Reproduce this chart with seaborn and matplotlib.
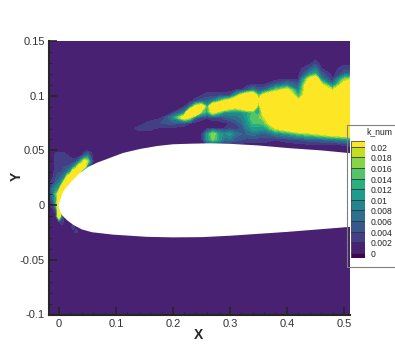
import numpy as np
import matplotlib
matplotlib.use("Agg")
import matplotlib.pyplot as plt
import seaborn as sns
from matplotlib.patches import Rectangle
from matplotlib.ticker import MultipleLocator

# Contour levels and axis ticks
levels = [0, 0.002, 0.004, 0.006, 0.008, 0.01, 0.012, 0.014, 0.016, 0.018, 0.02]
level_labels = ["0", "0.002", "0.004", "0.006", "0.008", "0.01", "0.012", "0.014", "0.016", "0.018", "0.02"]
x_ticks = [0, 0.1, 0.2, 0.3, 0.4, 0.5]
x_labels = ["0", "0.1", "0.2", "0.3", "0.4", "0.5"]
y_ticks = [-0.1, -0.05, 0, 0.05, 0.1, 0.15]
y_labels = ["-0.1", "-0.05", "0", "0.05", "0.1", "0.15"]

# Airfoil outline
upper_x = [-0.0008, 0, 0.002, 0.007, 0.012, 0.019, 0.033, 0.051, 0.067, 0.084, 0.112, 0.142, 0.172, 0.2, 0.23, 0.265, 0.30, 0.35, 0.405, 0.46, 0.52]
upper_y = [0, 0.002, 0.0046, 0.012, 0.0155, 0.02, 0.0275, 0.0348, 0.0388, 0.0421, 0.0476, 0.0513, 0.054, 0.0556, 0.0561, 0.0565, 0.056, 0.0545, 0.052, 0.05, 0.047]
lower_x = [-0.0008, 0, 0.002, 0.005, 0.014, 0.025, 0.04, 0.058, 0.095, 0.154, 0.2, 0.25, 0.3, 0.4, 0.52]
lower_y = [0, -0.002, -0.006, -0.009, -0.0137, -0.018, -0.0222, -0.0248, -0.027, -0.029, -0.0295, -0.0293, -0.028, -0.0245, -0.0195]

# k_num * 1000 in the wake, one row per x station
wake_x = [0.10, 0.12, 0.14, 0.16, 0.18, 0.20, 0.22, 0.23, 0.24, 0.25, 0.26, 0.27, 0.28, 0.29, 0.30, 0.31, 0.32, 0.33, 0.34, 0.35, 0.36, 0.38, 0.40, 0.42, 0.44, 0.45, 0.46, 0.48, 0.50, 0.52]
wake_y = [0.05, 0.055, 0.06, 0.065, 0.07, 0.075, 0.08, 0.085, 0.09, 0.095, 0.10, 0.105, 0.11, 0.115, 0.12, 0.125, 0.13, 0.135]
wake_k = [
    [1, 1, 1, 1, 1, 1, 1, 1, 1, 1, 1, 1, 1, 1, 1, 1, 1, 1],
    [1, 1, 1, 1, 1, 1, 1, 1, 1, 1, 1, 1, 1, 1, 1, 1, 1, 1],
    [1, 1, 1, 1, 2.5, 1, 1, 1, 1, 1, 1, 1, 1, 1, 1, 1, 1, 1],
    [1, 1, 1, 1, 2.5, 2.5, 1, 1, 1, 1, 1, 1, 1, 1, 1, 1, 1, 1],
    [1, 1, 1, 1, 1, 4, 1.5, 1, 1, 1, 1, 1, 1, 1, 1, 1, 1, 1],
    [1, 1, 1, 1, 1, 5, 9, 1.5, 1, 1, 1, 1, 1, 1, 1, 1, 1, 1],
    [1, 1, 1, 1, 1, 3, 24, 8, 2, 1, 1, 1, 1, 1, 1, 1, 1, 1],
    [1, 1, 1, 1, 1, 2, 18, 32, 7, 1, 1, 1, 1, 1, 1, 1, 1, 1],
    [1, 1, 1, 1, 1, 1, 5, 32, 22, 3, 1, 1, 1, 1, 1, 1, 1, 1],
    [1, 1, 1, 1, 1, 1, 3, 16, 26, 5, 2, 1, 1, 1, 1, 1, 1, 1],
    [1, 1, 10, 10, 1, 1, 2, 12, 12, 6, 3, 1, 1, 1, 1, 1, 1, 1],
    [1, 1, 16, 18, 2, 1, 3, 22, 32, 8, 3, 1, 1, 1, 1, 1, 1, 1],
    [1, 1, 12, 12, 2, 1, 3, 16, 34, 14, 3, 1, 1, 1, 1, 1, 1, 1],
    [1, 1, 7, 9, 2, 1.5, 5, 10, 32, 20, 3, 1, 1, 1, 1, 1, 1, 1],
    [1, 1, 7, 11, 3, 2, 6, 10, 24, 24, 4, 1, 1, 1, 1, 1, 1, 1],
    [1, 1, 5, 7, 3, 4, 7, 9, 22, 32, 12, 2, 1, 1, 1, 1, 1, 1],
    [1, 1, 4, 6, 4, 6, 8, 10, 26, 34, 22, 2, 1, 1, 1, 1, 1, 1],
    [1, 1, 3, 6, 8, 10, 11, 12, 32, 34, 30, 5, 1, 1, 1, 1, 1, 1],
    [1, 1, 3, 7, 11, 14, 16, 14, 30, 34, 32, 9, 2, 1, 1, 1, 1, 1],
    [1, 1, 3, 6, 11, 14, 15, 11, 12, 20, 14, 5, 2, 1, 1, 1, 1, 1],
    [1, 1, 3, 5, 10, 15, 19, 24, 30, 34, 24, 6, 2, 1, 1, 1, 1, 1],
    [1, 1, 2, 8, 19, 28, 30, 30, 30, 30, 30, 16, 5, 1, 1, 1, 1, 1],
    [1, 1, 3, 10, 24, 30, 30, 30, 30, 30, 30, 22, 8, 2, 1, 1, 1, 1],
    [1, 1, 4, 14, 30, 30, 30, 30, 30, 22, 12, 8, 5, 2, 1, 1, 1, 1],
    [1, 1.5, 5, 17, 30, 30, 30, 30, 30, 30, 30, 30, 30, 22, 9, 4, 1, 1],
    [1, 1.5, 5, 18, 30, 30, 30, 30, 30, 30, 30, 30, 30, 28, 12, 7, 3, 1],
    [1, 1.5, 6, 20, 30, 30, 30, 30, 30, 30, 30, 26, 21, 9, 5, 2, 1, 1],
    [1, 1, 7, 24, 30, 30, 30, 30, 30, 30, 30, 19, 7, 2, 1, 1, 1, 1],
    [1, 2, 9, 26, 30, 30, 30, 30, 30, 30, 30, 30, 24, 16, 5, 3, 1, 1],
    [1, 3, 12, 28, 30, 30, 30, 30, 30, 30, 30, 30, 30, 21, 8, 3, 1, 1],
]

# k_num * 1000 around the leading edge, one row per x station
nose_x = [-0.0175, -0.015, -0.01, -0.005, 0, 0.005, 0.01, 0.015, 0.02, 0.025, 0.03, 0.035, 0.04, 0.045, 0.05, 0.055, 0.06]
nose_y = [-0.025, -0.02, -0.015, -0.01, -0.005, 0, 0.005, 0.01, 0.015, 0.02, 0.025, 0.03, 0.035, 0.04, 0.045, 0.05]
nose_k = [
    [1, 1, 1, 1, 1, 1, 2, 3, 2, 1.5, 1, 1, 1, 1, 1, 1],
    [1, 1, 1, 1, 1, 2, 3, 5, 4, 2, 1, 1, 1, 1, 1, 1],
    [1, 1, 1, 1, 1.5, 3, 6, 8, 7, 3, 2, 1.5, 1, 1, 1, 1],
    [1, 1, 1, 1.5, 3, 14, 12, 14, 10, 6, 4, 3, 3, 3, 3, 1],
    [1, 1, 2, 28, 28, 26, 26, 24, 12, 8, 5, 4, 4, 4, 3.5, 1],
    [1, 1, 3, 5, 4, 8, 20, 28, 28, 12, 7, 4, 4, 4, 3.5, 1],
    [1, 1, 1, 1, 1, 1, 1, 4, 26, 26, 10, 5, 4, 4, 3, 1],
    [1, 1, 1, 1, 1, 1, 1, 1, 8, 28, 24, 8, 4, 3.5, 2, 1],
    [1, 1, 1, 1, 1, 1, 1, 1, 1, 20, 28, 12, 5, 3, 1.5, 1],
    [1, 3, 1, 1, 1, 1, 1, 1, 1, 5, 26, 26, 8, 2.5, 1, 1],
    [3, 1, 1, 1, 1, 1, 1, 1, 1, 1, 14, 28, 14, 3, 1, 1],
    [1, 1, 1, 1, 1, 1, 1, 1, 1, 1, 3, 24, 24, 7, 1, 1],
    [1, 1, 1, 1, 1, 1, 1, 1, 1, 1, 1, 10, 26, 14, 2, 1],
    [1, 1, 1, 1, 1, 1, 1, 1, 1, 1, 1, 2, 20, 22, 5, 1],
    [1, 1, 1, 1, 1, 1, 1, 1, 1, 1, 1, 1, 6, 18, 8, 1],
    [1, 1, 1, 1, 1, 1, 1, 1, 1, 1, 1, 1, 1, 8, 4, 1],
    [1, 1, 1, 1, 1, 1, 1, 1, 1, 1, 1, 1, 1, 1, 1, 1],
]

sns.set_style("ticks")
plt.rcParams["font.family"] = ["Liberation Sans", "DejaVu Sans"]

viridis = sns.color_palette("viridis", as_cmap=True)
colors = [viridis(v) for v in np.linspace(0, 1, len(levels) + 1)]

W, H = 395, 351
fig = plt.figure(figsize=(W / 100, H / 100), dpi=100)
ax = fig.add_axes([49 / W, (H - 314.5) / H, 301 / W, 273.5 / H])
ax.set_facecolor(colors[1])

for gx, gy, gk in [(wake_x, wake_y, wake_k), (nose_x, nose_y, nose_k)]:
    cs = ax.contourf(gx, gy, np.array(gk).T / 1000, levels=levels, colors=colors, extend="both")
    # hide the seams between neighbouring bands
    cs.set_edgecolor("face")
    cs.set_linewidth(0.4)

# Airfoil on top of the field
ax.fill(upper_x + lower_x[::-1], upper_y + lower_y[::-1], color="white", lw=0, zorder=3)

ax.set_xlim(-0.0175, 0.5105)
ax.set_ylim(-0.1, 0.15)
ax.set_xticks(x_ticks, x_labels)
ax.set_yticks(y_ticks, y_labels)
ax.xaxis.set_minor_locator(MultipleLocator(0.02))
ax.yaxis.set_minor_locator(MultipleLocator(0.01))
ax.tick_params(which="major", direction="in", length=5.5, width=1.2, labelsize=8, labelcolor="#333333", pad=3)
ax.tick_params(which="minor", direction="in", length=2.5, width=0.7)
ax.set_axisbelow(False)
sns.despine(ax=ax)
ax.spines["left"].set_linewidth(1.5)
ax.spines["bottom"].set_linewidth(1.5)
for sp in ax.spines.values():
    sp.set_zorder(5)
ax.set_xlabel("X", fontsize=10, fontweight="bold")
ax.set_ylabel("Y", fontsize=10, fontweight="bold")
ax.xaxis.set_label_coords(0.498, -0.05)
ax.yaxis.set_label_coords(-0.083, 0.505)

# Legend box runs off the right edge of the image
fig.add_artist(Rectangle((347 / W, (H - 267) / H), 60 / W, 142 / H, transform=fig.transFigure,
                         facecolor="none", edgecolor="#808080", lw=0.8, zorder=3))
fig.text(366 / W, (H - 132) / H, "k_num", fontsize=6.2, color="#222222", ha="left", va="center", zorder=5)

lax = fig.add_axes([351 / W, (H - 258) / H, 14 / W, 117 / H], zorder=4)
edges = [-0.001] + levels + [0.0211]
lax.bar(0, np.diff(edges), bottom=edges[:-1], width=1, color=colors, edgecolor="#2a2a3a", linewidth=0.5)
lax.set_xlim(-0.5, 0.5)
lax.set_ylim(-0.001, 0.0211)
lax.axis("off")
for lev, lab in zip(levels, level_labels):
    lax.text(0.93, lev - 0.00028, lab, fontsize=6.2, color="#222222", ha="left", va="center", clip_on=False)

fig.savefig("out.png", dpi=100)
